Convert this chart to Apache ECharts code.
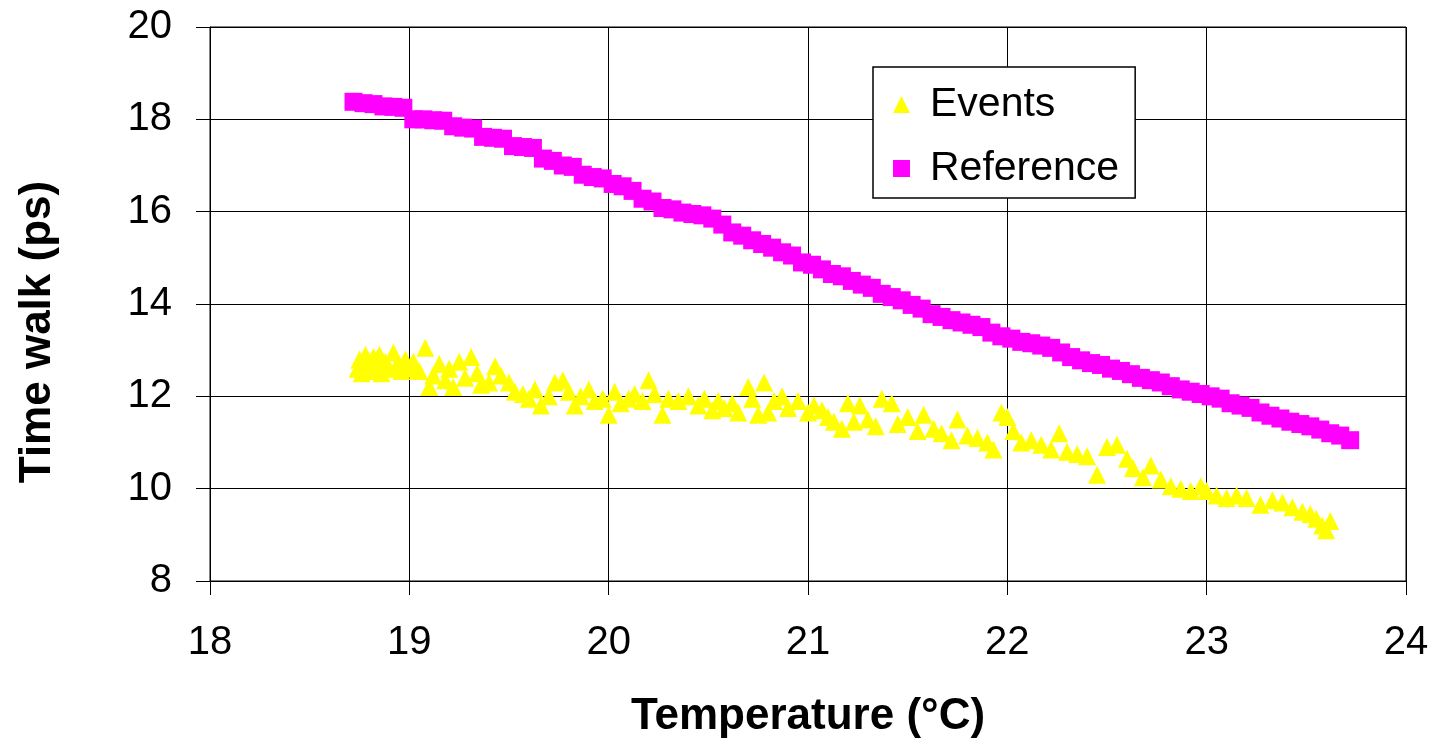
<!DOCTYPE html>
<html>
<head>
<meta charset="utf-8">
<script src="https://cdn.jsdelivr.net/npm/echarts@6/dist/echarts.min.js"></script>
<style>
  html, body { margin: 0; padding: 0; background: #fff; }
  #chart { width: 1437px; height: 746px; }
</style>
</head>
<body>
<div id="chart"></div>
<script>
// 图表数据 [温度, 时间游走]
const eventsData = [
  [18.74, 12.6], [18.75, 12.8], [18.76, 12.5], [18.78, 12.9], [18.79, 12.7], [18.8, 12.55],
  [18.82, 12.85], [18.83, 12.65], [18.85, 12.9], [18.86, 12.5], [18.88, 12.75], [18.9, 12.6],
  [18.92, 12.95], [18.94, 12.7], [18.96, 12.55], [18.98, 12.8], [19.0, 12.6], [19.02, 12.75],
  [19.05, 12.55], [19.08, 13.05], [19.1, 12.2], [19.12, 12.45], [19.15, 12.7], [19.18, 12.35],
  [19.2, 12.6], [19.22, 12.2], [19.25, 12.75], [19.28, 12.4], [19.31, 12.85], [19.34, 12.5],
  [19.36, 12.25], [19.4, 12.3], [19.43, 12.65], [19.46, 12.45], [19.5, 12.3], [19.53, 12.1],
  [19.57, 12.05], [19.6, 11.95], [19.63, 12.15], [19.66, 11.8], [19.7, 12.0], [19.73, 12.3],
  [19.77, 12.35], [19.8, 12.1], [19.83, 11.8], [19.86, 12.0], [19.9, 12.15], [19.93, 11.9],
  [19.97, 11.95], [20.0, 11.6], [20.03, 12.1], [20.06, 11.85], [20.1, 11.95], [20.13, 12.05],
  [20.17, 11.9], [20.2, 12.35], [20.23, 12.05], [20.27, 11.6], [20.3, 11.95], [20.35, 11.9],
  [20.4, 12.0], [20.45, 11.8], [20.48, 11.95], [20.52, 11.7], [20.55, 11.9], [20.58, 11.75],
  [20.62, 11.85], [20.65, 11.65], [20.7, 12.2], [20.72, 11.95], [20.75, 11.6], [20.78, 12.3],
  [20.8, 11.65], [20.83, 11.9], [20.87, 12.0], [20.9, 11.75], [20.95, 11.9], [21.0, 11.65],
  [21.03, 11.8], [21.07, 11.7], [21.1, 11.55], [21.13, 11.45], [21.17, 11.3], [21.2, 11.85],
  [21.23, 11.45], [21.26, 11.8], [21.3, 11.5], [21.34, 11.35], [21.37, 11.95], [21.42, 11.85],
  [21.45, 11.4], [21.5, 11.55], [21.55, 11.25], [21.58, 11.6], [21.63, 11.3], [21.67, 11.2],
  [21.72, 11.05], [21.75, 11.5], [21.8, 11.15], [21.85, 11.1], [21.9, 11.0], [21.93, 10.85],
  [21.97, 11.65], [22.0, 11.55], [22.03, 11.25], [22.07, 11.0], [22.12, 11.05], [22.17, 10.95],
  [22.22, 10.85], [22.26, 11.2], [22.3, 10.8], [22.35, 10.75], [22.4, 10.7], [22.45, 10.3],
  [22.5, 10.9], [22.55, 10.95], [22.6, 10.65], [22.63, 10.45], [22.68, 10.25], [22.72, 10.5],
  [22.77, 10.2], [22.82, 10.05], [22.87, 10.0], [22.92, 9.95], [22.97, 10.05], [23.0, 9.95],
  [23.05, 9.85], [23.1, 9.8], [23.15, 9.85], [23.2, 9.8], [23.27, 9.65], [23.33, 9.75],
  [23.38, 9.7], [23.43, 9.6], [23.48, 9.5], [23.52, 9.45], [23.55, 9.35], [23.58, 9.2],
  [23.6, 9.1], [23.62, 9.3]
]

const referenceData = [
  [18.72, 18.38], [18.77, 18.35], [18.82, 18.33], [18.87, 18.28], [18.92, 18.27], [18.97, 18.25],
  [19.02, 18.0], [19.07, 18.0], [19.12, 17.98], [19.17, 17.97], [19.22, 17.85], [19.27, 17.82],
  [19.32, 17.8], [19.37, 17.62], [19.42, 17.6], [19.47, 17.58], [19.52, 17.42], [19.57, 17.4],
  [19.62, 17.38], [19.67, 17.15], [19.72, 17.1], [19.77, 17.0], [19.82, 16.97], [19.87, 16.8],
  [19.92, 16.75], [19.97, 16.72], [20.02, 16.6], [20.07, 16.55], [20.12, 16.45], [20.17, 16.28],
  [20.22, 16.22], [20.27, 16.08], [20.32, 16.05], [20.37, 15.98], [20.42, 15.95], [20.47, 15.92],
  [20.52, 15.85], [20.57, 15.72], [20.62, 15.55], [20.67, 15.48], [20.72, 15.38], [20.77, 15.3],
  [20.82, 15.22], [20.87, 15.12], [20.92, 15.05], [20.97, 14.9], [21.02, 14.85], [21.07, 14.75],
  [21.12, 14.65], [21.17, 14.6], [21.22, 14.5], [21.27, 14.42], [21.32, 14.35], [21.37, 14.22],
  [21.42, 14.15], [21.47, 14.08], [21.52, 13.98], [21.57, 13.9], [21.62, 13.78], [21.67, 13.72],
  [21.72, 13.65], [21.77, 13.6], [21.82, 13.55], [21.87, 13.5], [21.92, 13.38], [21.97, 13.3],
  [22.02, 13.25], [22.07, 13.18], [22.12, 13.15], [22.17, 13.1], [22.22, 13.05], [22.27, 12.95],
  [22.32, 12.85], [22.37, 12.78], [22.42, 12.72], [22.47, 12.68], [22.52, 12.6], [22.57, 12.55],
  [22.62, 12.48], [22.67, 12.4], [22.72, 12.35], [22.77, 12.3], [22.82, 12.22], [22.87, 12.15],
  [22.92, 12.1], [22.97, 12.05], [23.02, 12.0], [23.07, 11.95], [23.12, 11.85], [23.17, 11.8],
  [23.22, 11.75], [23.27, 11.65], [23.32, 11.58], [23.37, 11.52], [23.42, 11.45], [23.47, 11.4],
  [23.52, 11.35], [23.57, 11.28], [23.62, 11.2], [23.67, 11.15], [23.72, 11.05]
]

const seriesNames = ['Events', 'Reference']
const xRange = [18, 24]
const yRange = [8, 20]

var myChart = echarts.init(document.getElementById('chart'))
var font = 'Liberation Sans, Arial, sans-serif'
var option = {
  animation: false,
  textStyle: {
    fontFamily: font,
    color: '#000',
  },
  grid: {
    left: 210,
    right: 31,
    top: 27,
    bottom: 165,
    show: true,
    borderColor: '#000',
    borderWidth: 1,
  },
  //图例
  legend: {
    data: seriesNames,
    orient: 'vertical',
    left: 873,
    top: 67,
    padding: [17, 16, 9, 20],
    itemWidth: 17,
    itemHeight: 17,
    itemGap: 23,
    backgroundColor: '#fff',
    borderColor: '#000',
    borderWidth: 1.5,
    textStyle: {
      fontSize: 41,
      color: '#000',
      fontFamily: font,
      padding: [0, 0, 0, 15],
    },
  },
  xAxis: {
    type: 'value',
    min: xRange[0],
    max: xRange[1],
    interval: 1,
    name: 'Temperature (°C)',
    nameLocation: 'middle',
    nameGap: 114,
    nameTextStyle: {
      fontSize: 44,
      fontWeight: 'bold',
      color: '#000',
    },
    axisLine: { lineStyle: { color: '#000', width: 1 } },
    axisTick: { show: true, length: 14, lineStyle: { color: '#000' } },
    axisLabel: { fontSize: 40, color: '#000', margin: 42 },
    splitLine: { show: true, lineStyle: { color: '#000', width: 1 } },
  },
  yAxis: {
    type: 'value',
    min: yRange[0],
    max: yRange[1],
    interval: 2,
    name: 'Time walk (ps)',
    nameLocation: 'middle',
    nameGap: 150,
    nameRotate: 90,
    nameTextStyle: {
      fontSize: 44,
      fontWeight: 'bold',
      color: '#000',
      padding: [0, 56, 0, 0],
    },
    axisLine: { show: true, lineStyle: { color: '#000', width: 1 } },
    axisTick: { show: true, length: 14, lineStyle: { color: '#000' } },
    axisLabel: { fontSize: 40, color: '#000', margin: 38 },
    splitLine: { show: true, lineStyle: { color: '#000', width: 1 } },
  },
  series: [
    {
      name: seriesNames[0],
      type: 'scatter',
      symbol: 'triangle',
      symbolSize: 18,
      itemStyle: { color: '#ffff00', opacity: 1 },
      data: eventsData,
    },
    {
      name: seriesNames[1],
      type: 'scatter',
      symbol: 'rect',
      symbolSize: 18,
      itemStyle: { color: '#ff00ff', opacity: 1 },
      data: referenceData,
    },
  ],
}
myChart.setOption(option)
</script>
</body>
</html>
